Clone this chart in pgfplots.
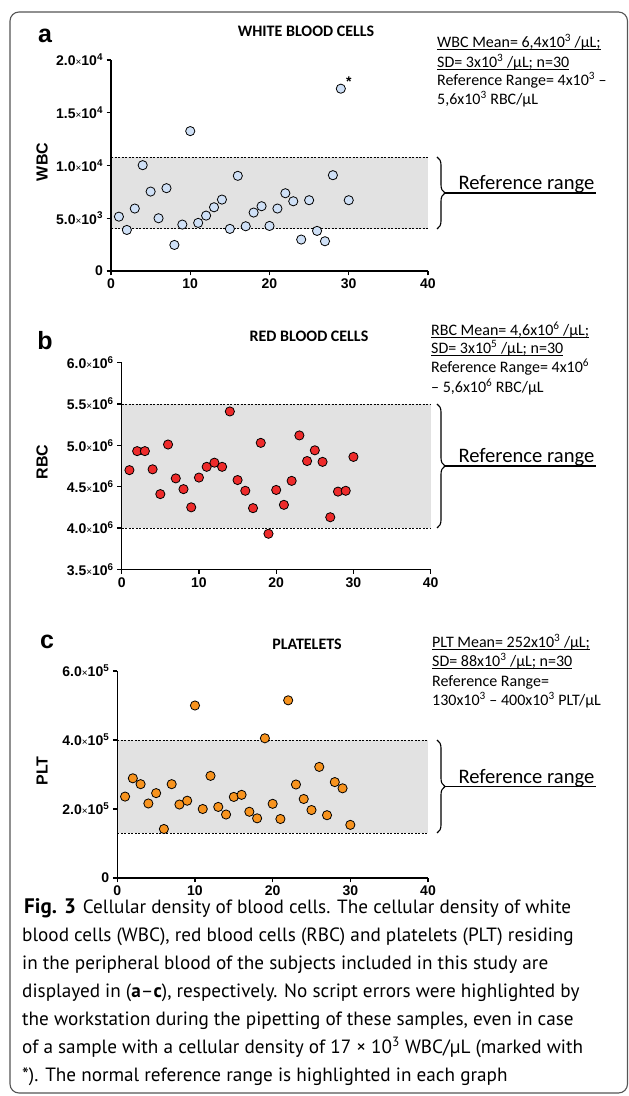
\documentclass[border=0pt]{standalone}
\usepackage{fontspec}
\setmainfont{Liberation Sans}
\newfontfamily\calibri{Carlito}
\newfontfamily\capfont{PT Sans}
\usepackage{pgfplots}
\pgfplotsset{compat=1.18}
\usetikzlibrary{decorations.pathreplacing}

\definecolor{wbcfill}{HTML}{CFE0F6}
\definecolor{rbcfill}{HTML}{EE2B2B}
\definecolor{pltfill}{HTML}{F7931E}
\definecolor{bandfill}{HTML}{E2E2E2}
\definecolor{framecol}{HTML}{555555}

% tick label like 5.0x10^3
\newcommand{\tl}[2]{\mbox{#1{\fontsize{10}{10}\selectfont\mdseries ×}10\textsuperscript{#2}}}
% underline close to the baseline
\newcommand{\ul}[1]{\setbox0\hbox{#1}\rlap{\rule[-2.2pt]{\wd0}{0.7pt}}\box0}

\pgfplotsset{panel/.style={
  scale only axis, anchor=south west,
  xmin=0, xmax=40,
  axis lines=left, axis line style={-, line width=1.5pt},
  every tick/.style={black, line width=1.3pt},
  tick align=outside, major tick length=4.5pt,
  xtick={0,10,20,30,40}, xticklabels={0,10,20,30,40},
  scaled y ticks=false,
  ticklabel style={font=\fontsize{14}{14}\selectfont\bfseries},
  axis on top, clip=false},
  band/.style={draw=none, fill=bandfill},
  refline/.style={black, line width=0.8pt, dash pattern=on 2pt off 1.5pt},
  dots/.style={only marks, mark=*, mark size=4.6pt,
    mark options={draw=black, line width=0.8pt, fill=#1}},
}

\begin{document}
\begin{tikzpicture}[x=1pt,y=1pt]
\path[use as bounding box] (0,0) rectangle (629,1096);
\draw[framecol, line width=1.1pt, rounded corners=9pt] (10,3) rectangle (627.5,1084);

% ---------- a: WBC ----------
\begin{axis}[panel, at={(111pt,825pt)}, width=317pt, height=211pt,
  ymin=0, ymax=20000, ytick={0,5000,10000,15000,20000},
  yticklabels={0,\tl{5.0}{3},\tl{1.0}{4},\tl{1.5}{4},\tl{2.0}{4}}]
\addplot[band] coordinates {(0,4000) (40,4000) (40,10800) (0,10800)} -- cycle;
\addplot[refline] coordinates {(0,4000) (40,4000)};
\addplot[refline] coordinates {(0,10800) (40,10800)};
\addplot[dots=wbcfill] table {
x y
1 5150
2 3890
3 5920
4 10030
5 7530
6 5000
7 7850
8 2470
9 4400
10 13260
11 4560
12 5250
13 6040
14 6770
15 3990
16 9020
17 4240
18 5540
19 6140
20 4270
21 5920
22 7370
23 6610
24 2980
25 6710
26 3800
27 2820
28 9080
29 17280
30 6710
};
\node[font=\fontsize{14}{14}\selectfont\bfseries] at (axis cs:29,17280) [xshift=8pt,yshift=7pt] {*};
\end{axis}

% ---------- b: RBC ----------
\begin{axis}[panel, at={(121.7pt,526.7pt)}, width=309pt, height=206.6pt,
  ymin=3.5e6, ymax=6.0e6, ytick={3.5e6,4.0e6,4.5e6,5.0e6,5.5e6,6.0e6},
  yticklabels={\tl{3.5}{6},\tl{4.0}{6},\tl{4.5}{6},\tl{5.0}{6},\tl{5.5}{6},\tl{6.0}{6}}]
\addplot[band] coordinates {(0,4.0e6) (40,4.0e6) (40,5.5e6) (0,5.5e6)} -- cycle;
\addplot[refline] coordinates {(0,4.0e6) (40,4.0e6)};
\addplot[refline] coordinates {(0,5.5e6) (40,5.5e6)};
\addplot[dots=rbcfill] table {
x y
1 4.70e6
2 4.93e6
3 4.93e6
4 4.71e6
5 4.41e6
6 5.01e6
7 4.60e6
8 4.47e6
9 4.25e6
10 4.61e6
11 4.74e6
12 4.79e6
13 4.74e6
14 5.41e6
15 4.58e6
16 4.45e6
17 4.24e6
18 5.03e6
19 3.93e6
20 4.46e6
21 4.28e6
22 4.57e6
23 5.12e6
24 4.81e6
25 4.94e6
26 4.80e6
27 4.13e6
28 4.44e6
29 4.45e6
30 4.86e6
};
\end{axis}

% ---------- c: PLT ----------
\begin{axis}[panel, at={(117.3pt,218pt)}, width=310.7pt, height=207pt,
  ymin=0, ymax=6e5, ytick={0,2e5,4e5,6e5},
  yticklabels={0,\tl{2.0}{5},\tl{4.0}{5},\tl{6.0}{5}}]
\addplot[band] coordinates {(0,1.3e5) (40,1.3e5) (40,4e5) (0,4e5)} -- cycle;
\addplot[refline] coordinates {(0,1.3e5) (40,1.3e5)};
\addplot[refline] coordinates {(0,4e5) (40,4e5)};
\addplot[dots=pltfill] table {
x y
1 236000
2 289000
3 272000
4 216000
5 246000
6 142000
7 272000
8 213000
9 224000
10 500000
11 200000
12 296000
13 206000
14 184000
15 235000
16 241000
17 192000
18 173000
19 405000
20 215000
21 171000
22 515000
23 271000
24 229000
25 197000
26 322000
27 182000
28 278000
29 260000
30 154000
};
\end{axis}

% panel letters, titles, axis names
\begin{scope}[every node/.style={font=\fontsize{25}{25}\selectfont\bfseries}]
\node at (45,1060) {a};
\node at (45,755) {b};
\node at (47,454) {c};
\end{scope}
\begin{scope}[every node/.style={font=\calibri\fontsize{16}{16}\selectfont\bfseries}]
\node at (306,1065) {WHITE BLOOD CELLS};
\node at (309,760) {RED BLOOD CELLS};
\node at (307,452) {PLATELETS};
\end{scope}
\begin{scope}[every node/.style={rotate=90, font=\fontsize{16}{16}\selectfont\bfseries}]
\node at (42,934) {WBC};
\node at (42,634) {RBC};
\node at (42,325) {PLT};
\end{scope}

% summary text
\begin{scope}[every node/.style={anchor=base west, inner sep=0pt, font=\calibri\fontsize{16}{16}\selectfont}]
\node at (437,1048) {\ul{WBC Mean= 6,4x10\textsuperscript{3} /μL;}};
\node at (437,1028) {\ul{SD= 3x10\textsuperscript{3} /μL; n=30}};
\node at (437,1010) {Reference Range= 4x10\textsuperscript{3} –};
\node at (437,991) {5,6x10\textsuperscript{3} RBC/μL};
\node at (431,760) {\ul{RBC Mean= 4,6x10\textsuperscript{6} /μL;}};
\node at (431,742) {\ul{SD= 3x10\textsuperscript{5} /μL; n=30}};
\node at (431,723) {Reference Range= 4x10\textsuperscript{6}};
\node at (431,703) {– 5,6x10\textsuperscript{6} RBC/μL};
\node at (432,448) {\ul{PLT Mean= 252x10\textsuperscript{3} /μL;}};
\node at (432,429) {\ul{SD= 88x10\textsuperscript{3} /μL; n=30}};
\node at (432,409) {Reference Range=};
\node at (432,390) {130x10\textsuperscript{3} – 400x10\textsuperscript{3} PLT/μL};
\end{scope}

% reference range braces
\begin{scope}[line width=1.1pt]
\draw[decorate, decoration={brace, amplitude=8pt}] (437,939) -- (437,867);
\draw (445,903) -- (596,903);
\node[anchor=base west, inner sep=0pt, font=\calibri\fontsize{20.6}{20.6}\selectfont] at (458,906) {Reference range};
\draw[decorate, decoration={brace, amplitude=8pt}] (437,692) -- (437,568);
\draw (445,630) -- (596,630);
\node[anchor=base west, inner sep=0pt, font=\calibri\fontsize{20.6}{20.6}\selectfont] at (458,633) {Reference range};
\draw[decorate, decoration={brace, amplitude=8pt}] (437,356) -- (437,263);
\draw (445,309.5) -- (596,309.5);
\node[anchor=base west, inner sep=0pt, font=\calibri\fontsize{20.6}{20.6}\selectfont] at (458,312.5) {Reference range};
\end{scope}

% caption
\begin{scope}[every node/.style={anchor=base west, inner sep=0pt, font=\capfont\fontsize{19.2}{19.2}\selectfont}]
\node at (24,182) {{\fontsize{21}{21}\selectfont\textbf{Fig. 3}}\hspace{7pt}Cellular density of blood cells. The cellular density of white};
\node at (22,154) {blood cells (WBC), red blood cells (RBC) and platelets (PLT) residing};
\node at (22,126) {in the peripheral blood of the subjects included in this study are};
\node at (22,98) {displayed in (\textbf{a}–\textbf{c}), respectively. No script errors were highlighted by};
\node at (22,70) {the workstation during the pipetting of these samples, even in case};
\node at (22,42) {of a sample with a cellular density of 17 × 10\textsuperscript{3} WBC/μL (marked with};
\node at (22,14) {*). The normal reference range is highlighted in each graph};
\end{scope}
\end{tikzpicture}
\end{document}
